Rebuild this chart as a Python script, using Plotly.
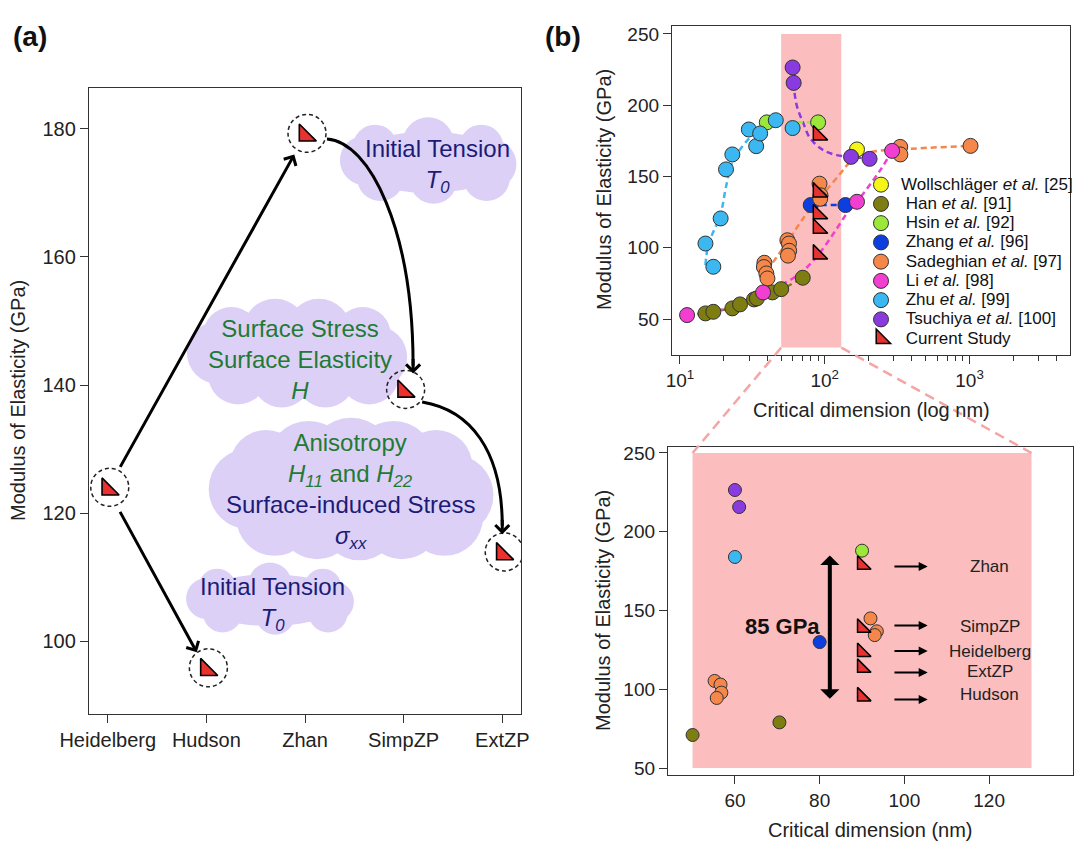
import math
import plotly.graph_objects as go

W, H = 1078, 841
FONT = "Liberation Sans, Arial, Helvetica, sans-serif"

# ------------------------------------------------------------------ data
models = ["Heidelberg", "Hudson", "Zhan", "SimpZP", "ExtZP"]
model_E = [123.7, 95.5, 179.0, 139.0, 113.6]          # GPa
current_dim = [90, 90, 90, 90, 90]                     # nm

wollschlager_x = [167]
wollschlager_y = [169]
han_x = [15.0, 17.0, 23.0, 26.0, 32.5, 34.0, 43.5, 50.0, 70.5]
han_y = [54.0, 55.1, 57.5, 60.3, 63.8, 64.5, 68.7, 71.0, 79.0]
hsin_x = [39.8, 90.0]
hsin_y = [188, 188]
zhang_x = [80.0, 139.0]
zhang_y = [130, 130]
sadeghian_x = [38.3, 38.0, 39.5, 40.2, 55.2, 56.6, 56.8, 55.7, 92.0, 93.5, 93.0, 332, 333, 1016]
sadeghian_y = [89.5, 86.5, 82.0, 78.5, 105.3, 103.0, 97.9, 94.5, 145.0, 136.8, 134.4, 170.8, 165.5, 171.5]
li_x = [11.2, 37.5, 167, 292]
li_y = [52.8, 68.7, 132.3, 168.0]
zhu_x = [15.0, 17.0, 19.1, 20.8, 23.0, 29.9, 33.6, 35.8, 45.9, 60.0]
zhu_y = [103.0, 86.7, 120.6, 155.0, 165.5, 183.0, 171.3, 180.2, 189.5, 184.0]
tsuchiya_x = [60.0, 61.0, 152, 204]
tsuchiya_y = [226.5, 215.7, 163.8, 162.4]

# dashed trend curves
zhu_fit_x = [15.0, 15.7, 19.1, 20.8, 22.8, 27.4, 34.0, 44.3]
zhu_fit_y = [87.9, 101.9, 124.0, 142.8, 159.0, 172.0, 181.4, 187.2]
han_fit_x = [14.0, 20.0, 30.0, 45.0, 70.5]
han_fit_y = [53.5, 56.5, 62.0, 68.5, 79.0]
li_fit_x = [11.2, 20.0, 37.5, 50.0, 67.6, 88.0, 115, 142, 167, 242, 292]
li_fit_y = [52.8, 57.0, 68.7, 74.0, 82.0, 93.7, 110.0, 124.0, 132.3, 154.5, 168.0]
sad_fit_x = [40.0, 55.0, 75.0, 98.0, 128, 150, 206, 330, 1000]
sad_fit_y = [84.0, 104.0, 124.0, 138.0, 152.0, 160.0, 167.0, 169.0, 171.5]
tsu_fit_x = [60.8, 64.0, 71.3, 79.4, 97.8, 121, 152, 204]
tsu_fit_y = [215.7, 200.0, 187.2, 176.7, 168.5, 165.0, 163.8, 162.4]

zoom_window_x = [50, 130]   # nm, highlighted range
zoom_window_y = [30, 250]

# ------------------------------------------------------------------ style
RED = "#e8322f"
PINK = "#fbbdbd"
CLOUD = "#ddd0f6"
GREEN = "#217a34"
NAVY = "#1b1b78"
C_WOLL = "#f5f51a"
C_HAN = "#7d7d12"
C_HSIN = "#9be83a"
C_ZHANG = "#0d3fe0"
C_SAD = "#f5874a"
C_LI = "#f23fd2"
C_ZHU = "#3bb8f2"
C_TSU = "#8a3be0"

DOM_AX = [89 / W, 521 / W]
DOM_AY = [1 - 714 / H, 1 - 88 / H]
DOM_BX = [672 / W, 1070 / W]
DOM_BY = [1 - 355 / H, 1 - 26 / H]
DOM_CX = [668 / W, 1073 / W]
DOM_CY = [1 - 775 / H, 1 - 447 / H]
RANGE_AX = [-0.19, 4.19]
RANGE_AY = [88.6, 186.4]
RANGE_BX = [0.945, 3.694]
RANGE_BY = [24.8, 255.6]
RANGE_CX = [44.2, 139.8]
RANGE_CY = [45.6, 253.8]

fig = go.Figure()

# ---------------- panel (a)
fig.add_trace(go.Scatter(
    x=list(range(len(models))), y=model_E, mode="markers",
    marker=dict(symbol="triangle-sw", size=19, color=RED, line=dict(color="black", width=1.6)),
    xaxis="x", yaxis="y", showlegend=False, hoverinfo="skip"))

# ---------------- panel (b) top: trend curves
fits = [(zhu_fit_x, zhu_fit_y, C_ZHU), (han_fit_x, han_fit_y, C_HAN),
        (li_fit_x, li_fit_y, C_LI), (sad_fit_x, sad_fit_y, C_SAD),
        (tsu_fit_x, tsu_fit_y, C_TSU), (hsin_x, hsin_y, C_HSIN), (zhang_x, zhang_y, C_ZHANG)]
for fx, fy, col in fits:
    fig.add_trace(go.Scatter(x=fx, y=fy, mode="lines",
                             line=dict(color=col, width=2.5, dash="6px,4px", shape="spline"),
                             xaxis="x2", yaxis="y2", showlegend=False, hoverinfo="skip"))

series = [
    ("Wollschläger <i>et al.</i> [25]", wollschlager_x, wollschlager_y, C_WOLL),
    ("\u00a0Han <i>et al.</i> [91]", han_x, han_y, C_HAN),
    ("\u00a0Hsin <i>et al.</i> [92]", hsin_x, hsin_y, C_HSIN),
    ("\u00a0Zhang <i>et al.</i> [96]", zhang_x, zhang_y, C_ZHANG),
    ("\u00a0Sadeghian <i>et al.</i> [97]", sadeghian_x, sadeghian_y, C_SAD),
    ("\u00a0Li <i>et al.</i> [98]", li_x, li_y, C_LI),
    ("\u00a0Zhu <i>et al.</i> [99]", zhu_x, zhu_y, C_ZHU),
    ("\u00a0Tsuchiya <i>et al.</i> [100]", tsuchiya_x, tsuchiya_y, C_TSU),
]
for name, xs, ys, col in series:
    fig.add_trace(go.Scatter(
        x=xs, y=ys, mode="markers", name='<span style="font-size:17px">' + name + "</span>",
        marker=dict(size=15, color=col, line=dict(color="#333", width=1)),
        xaxis="x2", yaxis="y2", hoverinfo="skip"))
fig.add_trace(go.Scatter(
    x=current_dim, y=model_E, mode="markers",
    name='<span style="font-size:17px">\u00a0Current Study</span>',
    marker=dict(symbol="triangle-sw", size=16, color=RED, line=dict(color="black", width=1.5)),
    xaxis="x2", yaxis="y2", hoverinfo="skip"))

# ---------------- panel (b) bottom: zoomed window
lo, hi = zoom_window_x[0] - 2, zoom_window_x[1] + 2
for name, xs, ys, col in series:
    px_ = [x for x in xs if lo <= x <= hi]
    py_ = [y for x, y in zip(xs, ys) if lo <= x <= hi]
    if px_:
        fig.add_trace(go.Scatter(
            x=px_, y=py_, mode="markers", showlegend=False,
            marker=dict(size=13, color=col, line=dict(color="#333", width=1)),
            xaxis="x3", yaxis="y3", hoverinfo="skip"))
fig.add_trace(go.Scatter(
    x=current_dim, y=model_E, mode="markers", showlegend=False,
    marker=dict(symbol="triangle-sw", size=15, color=RED, line=dict(color="black", width=1.5)),
    xaxis="x3", yaxis="y3", hoverinfo="skip"))

# ------------------------------------------------------------------ shapes
shapes = []


def cloud_shapes(xc, yc, w, h, xref="x", yref="y"):
    out = []

    def blob(dx, dy, rx, ry):
        out.append(dict(type="circle", xref=xref, yref=yref, xsizemode="pixel", ysizemode="pixel",
                        xanchor=xc, yanchor=yc, x0=dx - rx, x1=dx + rx, y0=dy - ry, y1=dy + ry,
                        fillcolor=CLOUD, line=dict(width=0), layer="below"))

    blob(0, 0, 0.42 * w, 0.34 * h)
    n = max(3, int(round(w / 55)))
    r = 0.27 * h
    for i in range(n):
        t = i / (n - 1)
        dx = (-0.30 + 0.60 * t) * w
        lift = 1 - (2 * t - 1) ** 2
        rr = r * (0.9 + 0.15 * lift)
        blob(dx, 0.17 * h + 0.04 * h * lift, rr, rr)
        blob(dx + 0.03 * w, -0.17 * h - 0.03 * h * lift, r * 0.95, r * 0.95)
    blob(-0.36 * w, 0.02 * h, r, r)
    blob(0.36 * w, -0.02 * h, r, r)
    return out


shapes += cloud_shapes(3.249, 174.8, 177, 91)
shapes += cloud_shapes(1.919, 144.7, 219, 116)
shapes += cloud_shapes(2.467, 123.3, 283, 150)
shapes += cloud_shapes(1.645, 106.4, 176, 76)

for i, e in enumerate(model_E):
    shapes.append(dict(type="circle", xref="x", yref="y", xsizemode="pixel", ysizemode="pixel",
                       xanchor=i, yanchor=e, x0=-17, x1=21, y0=-17, y1=21,
                       line=dict(color="#222", width=1.5, dash="4px,3px"),
                       fillcolor="rgba(0,0,0,0)", layer="above"))

# curved arrows in panel (a)
shapes.append(dict(type="path", xref="x", yref="y",
                   path="M 2.223,178.44 C 2.660,177.97 3.096,164.2 3.096,143.0",
                   line=dict(color="black", width=3), layer="above"))
shapes.append(dict(type="path", xref="x", yref="y",
                   path="M 3.188,137.34 C 3.675,136.09 4.0,129.84 4.0,118.0",
                   line=dict(color="black", width=3), layer="above"))

# highlighted window
shapes.append(dict(type="rect", xref="x2", yref="y2", x0=zoom_window_x[0], x1=zoom_window_x[1],
                   y0=zoom_window_y[0], y1=zoom_window_y[1], fillcolor=PINK, line=dict(width=0),
                   layer="below"))
shapes.append(dict(type="rect", xref="x3", yref="y3", x0=zoom_window_x[0], x1=zoom_window_x[1],
                   y0=50, y1=250, fillcolor=PINK, line=dict(width=0), layer="below"))


def to_paper(v, rng, dom, log=False):
    if log:
        v = math.log10(v)
    return dom[0] + (v - rng[0]) / (rng[1] - rng[0]) * (dom[1] - dom[0])


for xv in zoom_window_x:
    shapes.append(dict(type="line", xref="paper", yref="paper",
                       x0=to_paper(xv, RANGE_BX, DOM_BX, log=True),
                       y0=to_paper(zoom_window_y[0], RANGE_BY, DOM_BY),
                       x1=to_paper(xv, RANGE_CX, DOM_CX),
                       y1=to_paper(250, RANGE_CY, DOM_CY),
                       line=dict(color="#f6a5a5", width=2.5, dash="10px,6px"), layer="above"))

# ------------------------------------------------------------------ annotations
ann = []


def txt(x, y, text, size, color="#222", xref="paper", yref="paper", **kw):
    d = dict(x=x, y=y, xref=xref, yref=yref, text=text, showarrow=False,
             font=dict(size=size, color=color, family=FONT), xanchor="center", yanchor="middle")
    d.update(kw)
    ann.append(d)


# panel letters
txt(30 / W, 1 - 37 / H, "<b>(a)</b>", 28, "#111")
txt(563 / W, 1 - 37 / H, "<b>(b)</b>", 28, "#111")

# axis titles
txt(18 / W, 1 - 401 / H, "Modulus of Elasticity (GPa)", 20, textangle=-90)
txt(604 / W, 1 - 190 / H, "Modulus of Elasticity (GPa)", 20, textangle=-90)
txt(871 / W, 1 - 410 / H, "Critical dimension (log nm)", 20)
txt(603 / W, 1 - 611 / H, "Modulus of Elasticity (GPa)", 20, textangle=-90)
txt(870 / W, 1 - 830 / H, "Critical dimension (nm)", 20)

# cloud texts
txt(3.34, 174.2, "Initial Tension<br><i>T<sub>0</sub></i>", 24, NAVY, "x", "y")
txt(1.95, 144.06, "Surface Stress<br>Surface Elasticity<br><i>H</i>", 24, GREEN, "x", "y")
txt(2.457, 128.3, "Anisotropy<br><i>H<sub>11</sub></i> and <i>H<sub>22</sub></i>", 24, GREEN, "x", "y")
txt(2.457, 118.6, "Surface-induced Stress<br><i>σ<sub>xx</sub></i>", 24, NAVY, "x", "y")
txt(1.675, 105.86, "Initial Tension<br><i>T<sub>0</sub></i>", 24, NAVY, "x", "y")

# straight arrows in panel (a), drawn between the model points
for a, b, s0, s1 in [(0, 2, 24, 22), (0, 1, 24, 20)]:
    ann.append(dict(x=b, y=model_E[b], ax=a, ay=model_E[a], xref="x", yref="y", axref="x", ayref="y",
                    text="", showarrow=True, arrowhead=4, arrowsize=0.9, arrowwidth=3,
                    arrowcolor="black", standoff=s1, startstandoff=s0))
# heads of curved arrows
for hx, hy in [(3.096, 141.8), (4.0, 116.7)]:
    ann.append(dict(x=hx, y=hy, xref="x", yref="y", ax=0, ay=-16, text="", showarrow=True,
                    arrowhead=4, arrowsize=0.9, arrowwidth=3, arrowcolor="black"))

# lower panel (b)
txt(71.3, 140, "<b>85 GPa</b>", 22, "#111", "x3", "y3")
ann.append(dict(x=82.4, y=185, ax=82.4, ay=93, xref="x3", yref="y3", axref="x3", ayref="y3",
                text="", showarrow=True, arrowside="end+start", arrowhead=1, startarrowhead=1,
                arrowsize=0.8, startarrowsize=0.8, arrowwidth=4, arrowcolor="black"))
label_names = ["Zhan", "SimpZP", "Heidelberg", "ExtZP", "Hudson"]
label_y = [178, 140, 124, 111, 97]
arrow_y = [178, 140.5, 124.3, 110.6, 93.5]
for nm, ly, ay_ in zip(label_names, label_y, arrow_y):
    ann.append(dict(x=105.5, y=ay_, ax=97.3, ay=ay_, xref="x3", yref="y3", axref="x3", ayref="y3",
                    text="", showarrow=True, arrowhead=2, arrowsize=0.9, arrowwidth=2,
                    arrowcolor="black"))
    txt(120.2, ly, nm, 17, "#222", "x3", "y3")

# ------------------------------------------------------------------ axes
def axstyle(size=19):
    return dict(showline=True, linecolor="#333", linewidth=1.3, mirror=True, ticks="outside",
                ticklen=8, tickwidth=1.3, tickcolor="#333", showgrid=False, zeroline=False,
                tickfont=dict(size=size, color="#222", family=FONT), fixedrange=True,
                automargin=False)


minor_vals = [v * m for m in (10, 100) for v in range(2, 10)] + [2000, 3000, 4000]

fig.update_layout(
    width=W, height=H, margin=dict(l=0, r=0, t=0, b=0, autoexpand=False),
    paper_bgcolor="white", plot_bgcolor="white",
    font=dict(family=FONT, color="#222"),
    xaxis=dict(domain=DOM_AX, range=RANGE_AX, tickvals=list(range(len(models))), ticktext=models,
               anchor="y", **axstyle(20)),
    yaxis=dict(domain=DOM_AY, range=RANGE_AY, tickvals=[100, 120, 140, 160, 180], anchor="x",
               **axstyle(20)),
    xaxis2=dict(type="log", domain=DOM_BX, range=RANGE_BX, tickvals=[10, 100, 1000],
                ticktext=["10<sup>1</sup>", "10<sup>2</sup>", "10<sup>3</sup>"],
                minor=dict(tickvals=minor_vals, ticks="outside", ticklen=5, tickcolor="#333",
                           tickwidth=1.2),
                anchor="y2", **axstyle(19)),
    yaxis2=dict(domain=DOM_BY, range=RANGE_BY, tickvals=[50, 100, 150, 200, 250], anchor="x2",
                **axstyle(19)),
    xaxis3=dict(domain=DOM_CX, range=RANGE_CX, tickvals=[60, 80, 100, 120], anchor="y3",
                **axstyle(19)),
    yaxis3=dict(domain=DOM_CY, range=RANGE_CY, tickvals=[50, 100, 150, 200, 250], anchor="x3",
                **axstyle(19)),
    legend=dict(x=1.0, y=1 - 170 / H, xanchor="right", yanchor="top", bgcolor="rgba(0,0,0,0)",
                font=dict(size=12.5, family=FONT, color="#111"), itemsizing="trace",
                tracegroupgap=0),
    shapes=shapes, annotations=ann, showlegend=True,
)

fig.write_html("out.html", config={"displayModeBar": False},
               post_script="document.body.style.margin='0';document.body.style.overflow='hidden';")
